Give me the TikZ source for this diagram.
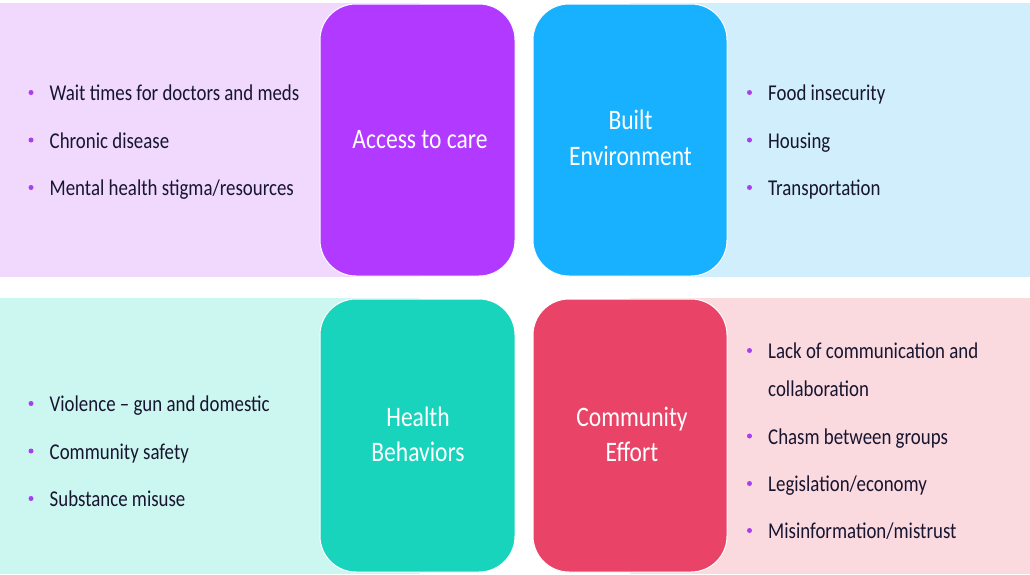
\documentclass[tikz,border=0pt]{standalone}
\usepackage{fontspec}
\setmainfont{Carlito}[FakeStretch=0.835]
\definecolor{boxP}{HTML}{B239FF}
\definecolor{boxB}{HTML}{17B1FF}
\definecolor{boxT}{HTML}{19D4BD}
\definecolor{boxR}{HTML}{E94468}
\definecolor{bandP}{HTML}{F0D9FD}
\definecolor{bandB}{HTML}{D1EEFC}
\definecolor{bandT}{HTML}{CCF7F1}
\definecolor{bandR}{HTML}{FAD9DF}
\definecolor{txt}{HTML}{17152F}
\definecolor{bulc}{HTML}{A83DF2}
\tikzset{
  catbox/.style={draw=white, line width=1pt, rounded corners=36pt, minimum width=#1, inner sep=0pt},
  title/.style={inner sep=0pt, text=white, font=\fontsize{28.2}{33}\selectfont, anchor=base},
  item/.style={inner sep=0pt, text=txt, font=\fontsize{22.6}{27}\selectfont, anchor=base west},
  dot/.style={circle, fill=bulc, inner sep=0pt, minimum size=5pt}
}
\newcommand\bul[4]{%
  \node[dot] (#1d) at (#2-18.5,#3-8) {};
  \node[item] (#1) at (#2,#3) {#4};
}
\begin{document}
\begin{tikzpicture}[x=1pt,y=-1pt]
\useasboundingbox (0,0) rectangle (1030,574);
\fill[white] (0,0) rectangle (1030,574);
% bands
\fill[bandP] (0,3) rectangle (420,277);
\fill[bandB] (630,3) rectangle (1030,277);
\fill[bandT] (0,298) rectangle (420,574);
\fill[bandR] (630,298) rectangle (1030,574);
% boxes
\node[catbox=195pt, fill=boxP, minimum height=272pt] (acc) at (417.5,140) {};
\node[catbox=194pt, fill=boxB, minimum height=272pt] (blt) at (630,140) {};
\node[catbox=195pt, fill=boxT, minimum height=273pt] (hlt) at (417.5,435.5) {};
\node[catbox=194pt, fill=boxR, minimum height=273pt] (com) at (630,435.5) {};
% titles
\node[title] (accT) at (420,148.3) {Access to care};
\node[title] (bltA) at (630.5,129.3) {Built};
\node[title] (bltB) at (630.5,165.7) {Environment};
\node[title] (hltA) at (418,426.7) {Health};
\node[title] (hltB) at (418,461.7) {Behaviors};
\node[title] (comA) at (632,426.7) {Community};
\node[title] (comB) at (632,461.7) {Effort};
% items top-left
\bul{a1}{49.5}{100.5}{Wait times for doctors and meds}
\bul{a2}{49.5}{148}{Chronic disease}
\bul{a3}{49.5}{195.5}{Mental health stigma/resources}
% items top-right
\bul{b1}{768}{100.5}{Food insecurity}
\bul{b2}{768}{148}{Housing}
\bul{b3}{768}{195.5}{Transportation}
% items bottom-left
\bul{c1}{49.5}{411.5}{Violence – gun and domestic}
\bul{c2}{49.5}{459}{Community safety}
\bul{c3}{49.5}{506.5}{Substance misuse}
% items bottom-right
\bul{d1}{768}{358.5}{Lack of communication and}
\node[item] (d1b) at (768,396.5) {collaboration};
\bul{d2}{768}{444}{Chasm between groups}
\bul{d3}{768}{491.5}{Legislation/economy}
\bul{d4}{768}{538.5}{Misinformation/mistrust}
\end{tikzpicture}
\end{document}
